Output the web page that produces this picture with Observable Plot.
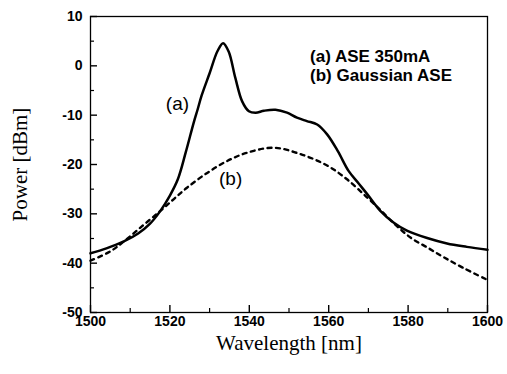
<!DOCTYPE html>
<html>
<head>
<meta charset="utf-8">
<script src="https://cdn.jsdelivr.net/npm/d3@7"></script>
<script src="https://cdn.jsdelivr.net/npm/@observablehq/plot@0.6"></script>
<style>
  body { margin: 0; background: #fff; }
  #chart svg { background: #fff; }
</style>
</head>
<body>
<div id="chart"></div>
<script>
// Curve (a): ASE 350mA (solid)
const aWavelength = [1500, 1504, 1508.4, 1512, 1515, 1517.6, 1520, 1522, 1524, 1526, 1527, 1528, 1530, 1532, 1533.4, 1534.8, 1536.5, 1538.2, 1539.9, 1541.6, 1543.7, 1546.6, 1549.5, 1552, 1554.5, 1557.1, 1559.6, 1562.3, 1565, 1567.5, 1569.7, 1573, 1576.4, 1579.7, 1584.8, 1589.8, 1594.8, 1600];
const aPower      = [-38, -37, -35.6, -34, -32, -29.4, -26.3, -23, -17.5, -11.5, -8.8, -6, -1.5, 3, 4.6, 2.9, -2.5, -7.2, -9.2, -9.5, -9.1, -8.9, -9.5, -10.5, -11.2, -11.9, -13.9, -17.3, -21.3, -23.8, -26, -29.4, -31.8, -33.4, -34.9, -36, -36.7, -37.3];

// Curve (b): Gaussian ASE (dashed)
const bWavelength = [1500, 1505, 1508.4, 1513, 1517.6, 1521, 1524.3, 1529.4, 1534.4, 1539.5, 1546.2, 1552.9, 1559.6, 1564.6, 1569.7, 1573, 1576.5, 1580.6, 1585, 1589, 1594, 1600];
const bPower      = [-39.5, -37.6, -35.6, -32.5, -29.4, -27, -24.7, -21.7, -19.3, -17.6, -16.6, -17.9, -20.2, -23, -26.7, -29.2, -32, -34.8, -36.9, -38.8, -41, -43.4];

// Axis ticks
const xMajor = [1500, 1520, 1540, 1560, 1580, 1600];
const xMinor = [1510, 1530, 1550, 1570, 1590];
const yMajor = [-50, -40, -30, -20, -10, 0, 10];
const yMinor = [-45, -35, -25, -15, -5, 5];

// Annotations
const curveLabels = ["(a)", "(b)"];
const curveLabelX = [1521.9, 1535.3];
const curveLabelY = [-7.8, -23.0];
const legendLines = ["(a) ASE 350mA", "(b) Gaussian ASE"];
const legendX = [1555.3, 1555.3];
const legendY = [1.8, -1.9];

const xTitle = "Wavelength [nm]";
const yTitle = "Power [dBm]";

const seriesA = aWavelength.map((x, i) => ({x, y: aPower[i]}));
const seriesB = bWavelength.map((x, i) => ({x, y: bPower[i]}));
const curveLab = curveLabels.map((t, i) => ({t, x: curveLabelX[i], y: curveLabelY[i]}));
const legendLab = legendLines.map((t, i) => ({t, x: legendX[i], y: legendY[i]}));

const sans = "'Liberation Sans', Arial, Helvetica, sans-serif";
const serif = "'Liberation Serif', 'Times New Roman', Times, serif";
const hyphen = d => String(d);

const W = 507, H = 374, mL = 90, mR = 20, mT = 16, mB = 62;
const frameW = W - mL - mR, frameH = H - mT - mB;

const chart = Plot.plot({
  width: W,
  height: H,
  marginLeft: mL,
  marginRight: mR,
  marginTop: mT,
  marginBottom: mB,
  style: {background: "#fff", color: "#000", overflow: "visible"},
  x: {domain: [1500, 1600], axis: null},
  y: {domain: [-50, 10], axis: null},
  marks: [
    // inward ticks
    Plot.ruleX(xMinor, {x: d => d, insetTop: frameH - 4, stroke: "#000", strokeWidth: 1.2}),
    Plot.ruleX(xMajor, {x: d => d, insetTop: frameH - 7, stroke: "#000", strokeWidth: 1.4}),
    Plot.ruleY(yMinor, {y: d => d, insetRight: frameW - 4, stroke: "#000", strokeWidth: 1.2}),
    Plot.ruleY(yMajor, {y: d => d, insetRight: frameW - 7, stroke: "#000", strokeWidth: 1.4}),
    // tick labels
    Plot.text(xMajor, {x: d => d, frameAnchor: "bottom", text: hyphen, dy: 4, lineAnchor: "top",
      textAnchor: "middle", fontSize: 14, fontWeight: "bold", fontFamily: sans, fill: "#000"}),
    Plot.text(yMajor, {y: d => d, frameAnchor: "left", text: hyphen, dx: -8, textAnchor: "end",
      lineAnchor: "middle", fontSize: 14, fontWeight: "bold", fontFamily: sans, fill: "#000"}),
    // axis titles
    Plot.text([xTitle], {frameAnchor: "bottom", dy: 31, text: d => d, fontSize: 21,
      fontFamily: serif, fill: "#000", lineAnchor: "middle", textAnchor: "middle"}),
    Plot.text([yTitle], {frameAnchor: "left", dx: -70, rotate: -90, text: d => d, fontSize: 21,
      fontFamily: serif, fill: "#000", lineAnchor: "middle", textAnchor: "middle"}),
    // curves
    Plot.line(seriesB, {x: "x", y: "y", stroke: "#000", strokeWidth: 2.4,
      strokeDasharray: "4,4.5", curve: "catmull-rom"}),
    Plot.line(seriesA, {x: "x", y: "y", stroke: "#000", strokeWidth: 2.5, curve: "catmull-rom"}),
    // labels
    Plot.text(curveLab, {x: "x", y: "y", text: "t", fontSize: 19, fontFamily: sans, fill: "#000"}),
    Plot.text(legendLab, {x: "x", y: "y", text: "t", fontSize: 17, fontWeight: "bold", fontFamily: sans,
      fill: "#000", textAnchor: "start"}),
    Plot.frame({stroke: "#000", strokeWidth: 1.3})
  ]
});
document.getElementById("chart").appendChild(chart);
</script>
</body>
</html>
